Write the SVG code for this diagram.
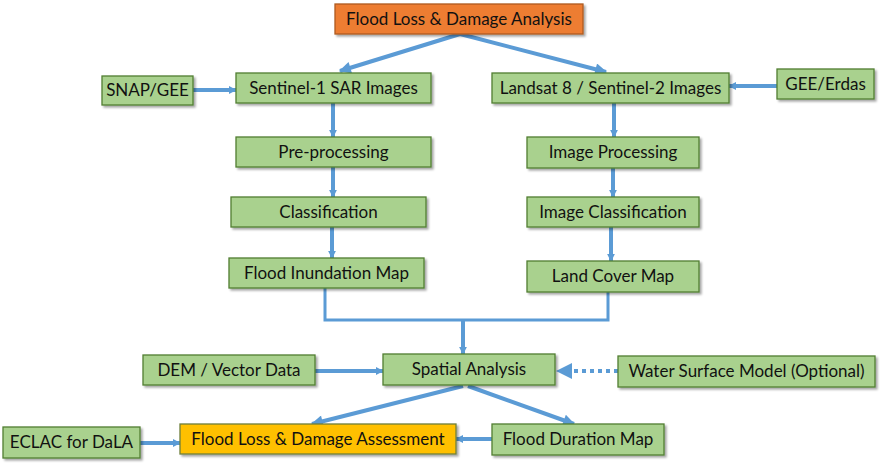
<svg xmlns="http://www.w3.org/2000/svg" width="884" height="471" viewBox="0 0 884 471">
<defs>
<style>
.n{fill:#A9D18E;stroke:#507E32;stroke-width:1.3}
.o{fill:#ED7D31;stroke:#AE5A21;stroke-width:1.3}
.y{fill:#FFC000;stroke:#6F7F3A;stroke-width:1.3}
text{font-family:Lato,"Open Sans","Liberation Sans",sans-serif;font-size:17px;fill:#111;text-anchor:middle}
.c{stroke:#5B9BD5;stroke-width:4;fill:none}
</style>
<filter id="sh" x="-5%" y="-20%" width="115%" height="150%">
<feDropShadow dx="2" dy="2" stdDeviation="1.2" flood-color="#000" flood-opacity="0.35"/>
</filter>
<marker id="a" viewBox="0 0 10 10" refX="9" refY="5" markerWidth="2" markerHeight="2" orient="auto" markerUnits="strokeWidth">
<path d="M0,0 L10,5 L0,10 z" fill="#5B9BD5"/>
</marker>
<marker id="b" viewBox="0 0 10 10" refX="9" refY="5" markerWidth="3.5" markerHeight="3" orient="auto" markerUnits="strokeWidth">
<path d="M0,0 L10,5 L0,10 z" fill="#5B9BD5"/>
</marker>
</defs>
<rect width="884" height="471" fill="#fff"/>
<g id="connectors">
<path class="c" d="M460,34 L340,71" marker-end="url(#b)"/>
<path class="c" d="M460,34 L606,72" marker-end="url(#b)"/>
<path class="c" d="M193,90 L236,90" marker-end="url(#a)"/>
<path class="c" d="M777,86 L729,86" marker-end="url(#a)"/>
<path class="c" d="M333,103 L333,137" marker-end="url(#a)"/>
<path class="c" d="M333,167 L333,197" marker-end="url(#a)"/>
<path class="c" d="M332,227 L332,258" marker-end="url(#a)"/>
<path class="c" d="M614,103 L614,137" marker-end="url(#a)"/>
<path class="c" d="M613,168 L613,197" marker-end="url(#a)"/>
<path class="c" d="M611,227 L611,261" marker-end="url(#a)"/>
<path class="c" style="stroke-width:3" d="M325,288 L325,320 L608,320 L608,292"/>
<path class="c" d="M463,321 L463,354" marker-end="url(#a)"/>
<path class="c" d="M315,371 L383,371" marker-end="url(#a)"/>
<path class="c" d="M618,371 L570,371" style="stroke-dasharray:4,4"/>
<path d="M556,371 L572,363 L572,379 z" fill="#5B9BD5"/>
<path class="c" d="M140,443 L180,443" marker-end="url(#a)"/>
<path class="c" d="M492,439 L456,439" marker-end="url(#a)"/>
<path class="c" d="M463,386 L312,424" marker-end="url(#b)"/>
<path class="c" d="M468,386 L574,424" marker-end="url(#b)"/>
</g>
<g id="top"><rect class="o" filter="url(#sh)" x="335" y="4" width="248" height="30"/><text x="459" y="25">Flood Loss &amp; Damage Analysis</text></g>
<g id="snap"><rect class="n" filter="url(#sh)" x="102" y="76" width="91" height="29"/><text x="147.5" y="96">SNAP/GEE</text></g>
<g id="s1"><rect class="n" filter="url(#sh)" x="236" y="73" width="195" height="30"/><text x="333.5" y="94">Sentinel-1 SAR Images</text></g>
<g id="landsat"><rect class="n" filter="url(#sh)" x="492" y="73" width="237" height="30"/><text x="610.5" y="94">Landsat 8 / Sentinel-2 Images</text></g>
<g id="gee"><rect class="n" filter="url(#sh)" x="777" y="69" width="97" height="30"/><text x="825.5" y="90">GEE/Erdas</text></g>
<g id="pre"><rect class="n" filter="url(#sh)" x="236" y="137" width="195" height="30"/><text x="333.5" y="158">Pre-processing</text></g>
<g id="cls"><rect class="n" filter="url(#sh)" x="231" y="197" width="195" height="30"/><text x="328.5" y="218">Classification</text></g>
<g id="fim"><rect class="n" filter="url(#sh)" x="229" y="258" width="195" height="30"/><text x="326.5" y="279">Flood Inundation Map</text></g>
<g id="ip"><rect class="n" filter="url(#sh)" x="527" y="137" width="172" height="31"/><text x="613" y="158">Image Processing</text></g>
<g id="ic"><rect class="n" filter="url(#sh)" x="527" y="197" width="172" height="30"/><text x="613" y="218">Image Classification</text></g>
<g id="lcm"><rect class="n" filter="url(#sh)" x="527" y="261" width="172" height="31"/><text x="613" y="282">Land Cover Map</text></g>
<g id="dem"><rect class="n" filter="url(#sh)" x="143" y="355" width="172" height="30"/><text x="229" y="376">DEM / Vector Data</text></g>
<g id="sa"><rect class="n" filter="url(#sh)" x="383" y="354" width="172" height="31"/><text x="469" y="375">Spatial Analysis</text></g>
<g id="wsm"><rect class="n" filter="url(#sh)" x="618" y="356" width="257" height="31"/><text x="746.5" y="377">Water Surface Model (Optional)</text></g>
<g id="eclac"><rect class="n" filter="url(#sh)" x="3" y="427" width="137" height="31"/><text x="71.5" y="448">ECLAC for DaLA</text></g>
<g id="flda"><rect class="y" filter="url(#sh)" x="180" y="424" width="276" height="30"/><text x="318" y="445">Flood Loss &amp; Damage Assessment</text></g>
<g id="fdm"><rect class="n" filter="url(#sh)" x="492" y="424" width="172" height="31"/><text x="578" y="445">Flood Duration Map</text></g>
</svg>
